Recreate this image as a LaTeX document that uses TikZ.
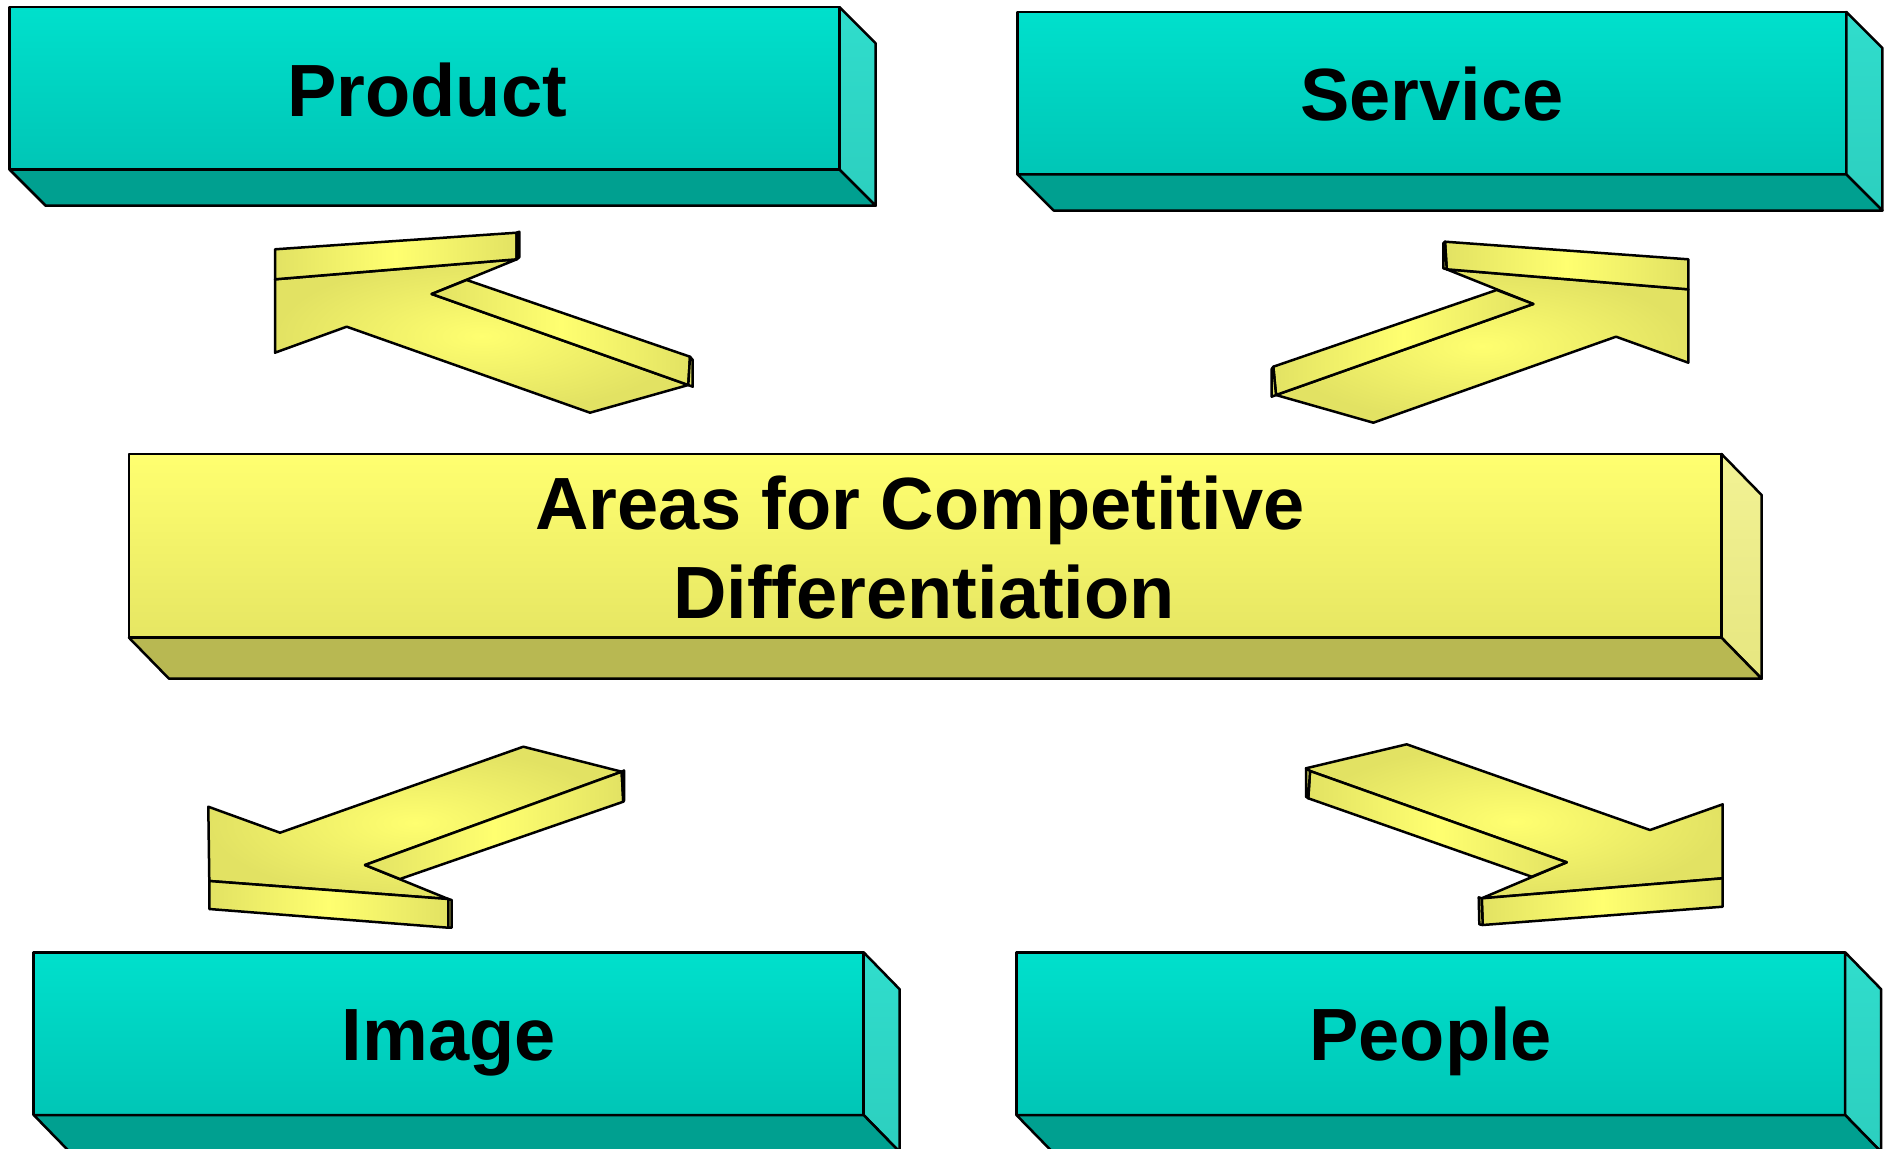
\documentclass[tikz,border=0pt]{standalone}
\usepackage{fontspec}
\setmainfont{Liberation Sans}
\definecolor{tealT}{HTML}{00E0CC}
\definecolor{tealB}{HTML}{00C6B6}
\definecolor{tealS}{HTML}{30DDCC}
\definecolor{tealS2}{HTML}{2CCFBF}
\definecolor{tealD}{HTML}{00A090}
\definecolor{yelT}{HTML}{FFFF70}
\definecolor{yelB}{HTML}{E6E663}
\definecolor{yelS}{HTML}{F2F294}
\definecolor{yelS2}{HTML}{E6E680}
\definecolor{yelD}{HTML}{B8B852}
\definecolor{arrC}{HTML}{FFFF70}
\definecolor{arrE}{HTML}{E2E263}
\tikzset{
  face/.style={draw=black, line width=2.5pt, line join=round},
  tfront/.style={face, top color=tealT, bottom color=tealB},
  tside/.style={face, top color=tealS, bottom color=tealS2},
  tbottom/.style={face, fill=tealD},
  yfront/.style={face, top color=yelT, bottom color=yelB},
  yside/.style={face, top color=yelS, bottom color=yelS2},
  ybottom/.style={face, fill=yelD},
  afront/.style={face, inner color=arrC, outer color=arrE},
  abar/.style={face, left color=arrE, right color=arrE, middle color=arrC},
  aside/.style={face, fill=arrE},
  lbl/.style={anchor=base, inner sep=0pt, font=\fontsize{74}{89}\selectfont\bfseries, text=black},
}
\begin{document}
\begin{tikzpicture}[x=1pt,y=-1pt]
\useasboundingbox (0,0) rectangle (1886,1148);
\clip (0,0) rectangle (1886,1148);
\fill[white] (0,0) rectangle (1886,1148);

% ---------- Product box ----------
\path[tfront] (9.6,7.2) rectangle (839.5,169.6);
\path[tside] (839.5,7.2) -- (875.6,43.3) -- (875.6,205.7) -- (839.5,169.6) -- cycle;
\path[tbottom] (9.6,169.6) -- (45.7,205.7) -- (875.6,205.7) -- (839.5,169.6) -- cycle;
\node[lbl] (product) at (427,116) {Product};

% ---------- Service box ----------
\path[tfront] (1017.6,12) rectangle (1846.3,174.4);
\path[tside] (1846.3,12) -- (1882.4,48.1) -- (1882.4,210.5) -- (1846.3,174.4) -- cycle;
\path[tbottom] (1017.6,174.4) -- (1053.7,210.5) -- (1882.4,210.5) -- (1846.3,174.4) -- cycle;
\node[lbl] (service) at (1432,120.5) {Service};

% ---------- Central box ----------
\path[yfront] (129,454) rectangle (1721.5,637.7);
\path[yside] (1721.5,454) -- (1761.6,495) -- (1761.6,678.7) -- (1721.5,637.7) -- cycle;
\path[ybottom] (129,637.7) -- (169,678.7) -- (1761.6,678.7) -- (1721.5,637.7) -- cycle;
\node[lbl] (areas) at (920,529.3) {Areas for Competitive};
\node[lbl] (diff) at (924,618.3) {Differentiation};

% ---------- Image box ----------
\path[tfront] (33.7,952.3) rectangle (863.6,1115);
\path[tside] (863.6,952.3) -- (899.7,989.3) -- (899.7,1152) -- (863.6,1115) -- cycle;
\path[tbottom] (33.7,1115) -- (69.8,1152) -- (899.7,1152) -- (863.6,1115) -- cycle;
\node[lbl] (image) at (448.6,1060) {Image};

% ---------- People box ----------
\path[tfront] (1016.4,952.3) rectangle (1845.1,1115);
\path[tside] (1845.1,952.3) -- (1881.2,989.3) -- (1881.2,1152) -- (1845.1,1115) -- cycle;
\path[tbottom] (1016.4,1115) -- (1052.5,1152) -- (1881.2,1152) -- (1845.1,1115) -- cycle;
\node[lbl] (people) at (1430.7,1060) {People};

% ---------- Arrow top-left ----------
\path[afront] (275,279.3) -- (516.7,259.3) -- (431.7,294) -- (688.3,385) -- (590,412.7) -- (346.7,326.7) -- (275,352.7) -- cycle;
\path[abar] (275,249.3) -- (516.7,232.7) -- (516.7,259.3) -- (275,279.3) -- cycle;
\path[aside] (516.7,232.7) -- (519.3,231.7) -- (519.3,257.3) -- (516.7,259.3) -- cycle;
\path[abar] (466.7,280) -- (690,356.7) -- (688.3,385) -- (431.7,294) -- cycle;
\path[aside] (690,356.7) -- (692.7,360) -- (692.7,386.7) -- (688.3,385) -- cycle;

% ---------- Arrow top-right ----------
\path[afront] (1688.3,289.3) -- (1688.3,362.7) -- (1616,336.7) -- (1373.3,422.7) -- (1276,395) -- (1533.3,304) -- (1446.7,269.3) -- cycle;
\path[abar] (1445,241.7) -- (1688.3,259.3) -- (1688.3,289.3) -- (1446.7,269.3) -- cycle;
\path[aside] (1445,241.7) -- (1443.3,243.3) -- (1443.3,268.3) -- (1446.7,269.3) -- cycle;
\path[abar] (1496.7,290) -- (1273.3,366.7) -- (1276,395) -- (1533.3,304) -- cycle;
\path[aside] (1273.3,366.7) -- (1271.7,369) -- (1271.7,396.7) -- (1276,395) -- cycle;

% ---------- Arrow bottom-left ----------
\path[afront] (208.3,806.7) -- (280,832.7) -- (523.3,746.7) -- (621.7,771.7) -- (365,865) -- (448.3,899) -- (209.3,881) -- cycle;
\path[abar] (209.3,881) -- (448.3,899) -- (448.3,927.7) -- (209.3,909) -- cycle;
\path[aside] (448.3,899) -- (451.7,900) -- (451.7,927.7) -- (448.3,927.7) -- cycle;
\path[abar] (621.7,771.7) -- (623.3,801.7) -- (400,879) -- (365,865) -- cycle;
\path[aside] (621.7,771.7) -- (624,770.5) -- (624,800.5) -- (623.3,801.7) -- cycle;

% ---------- Arrow bottom-right ----------
\path[afront] (1306,768.3) -- (1406.7,744.3) -- (1650,830) -- (1722.7,804.3) -- (1722.7,878.3) -- (1481.7,898.3) -- (1566.7,862.3) -- (1310,771) -- cycle;
\path[abar] (1310,771) -- (1566.7,862.3) -- (1531.7,876.7) -- (1308.3,798.3) -- cycle;
\path[aside] (1306,768.3) -- (1310,771) -- (1308.3,798.3) -- (1306,796.7) -- cycle;
\path[abar] (1481.7,898.3) -- (1722.7,878.3) -- (1722.7,906.7) -- (1482.7,925) -- cycle;
\path[aside] (1478.7,897.3) -- (1481.7,898.3) -- (1482.7,925) -- (1479.3,924.3) -- cycle;
\end{tikzpicture}
\end{document}
